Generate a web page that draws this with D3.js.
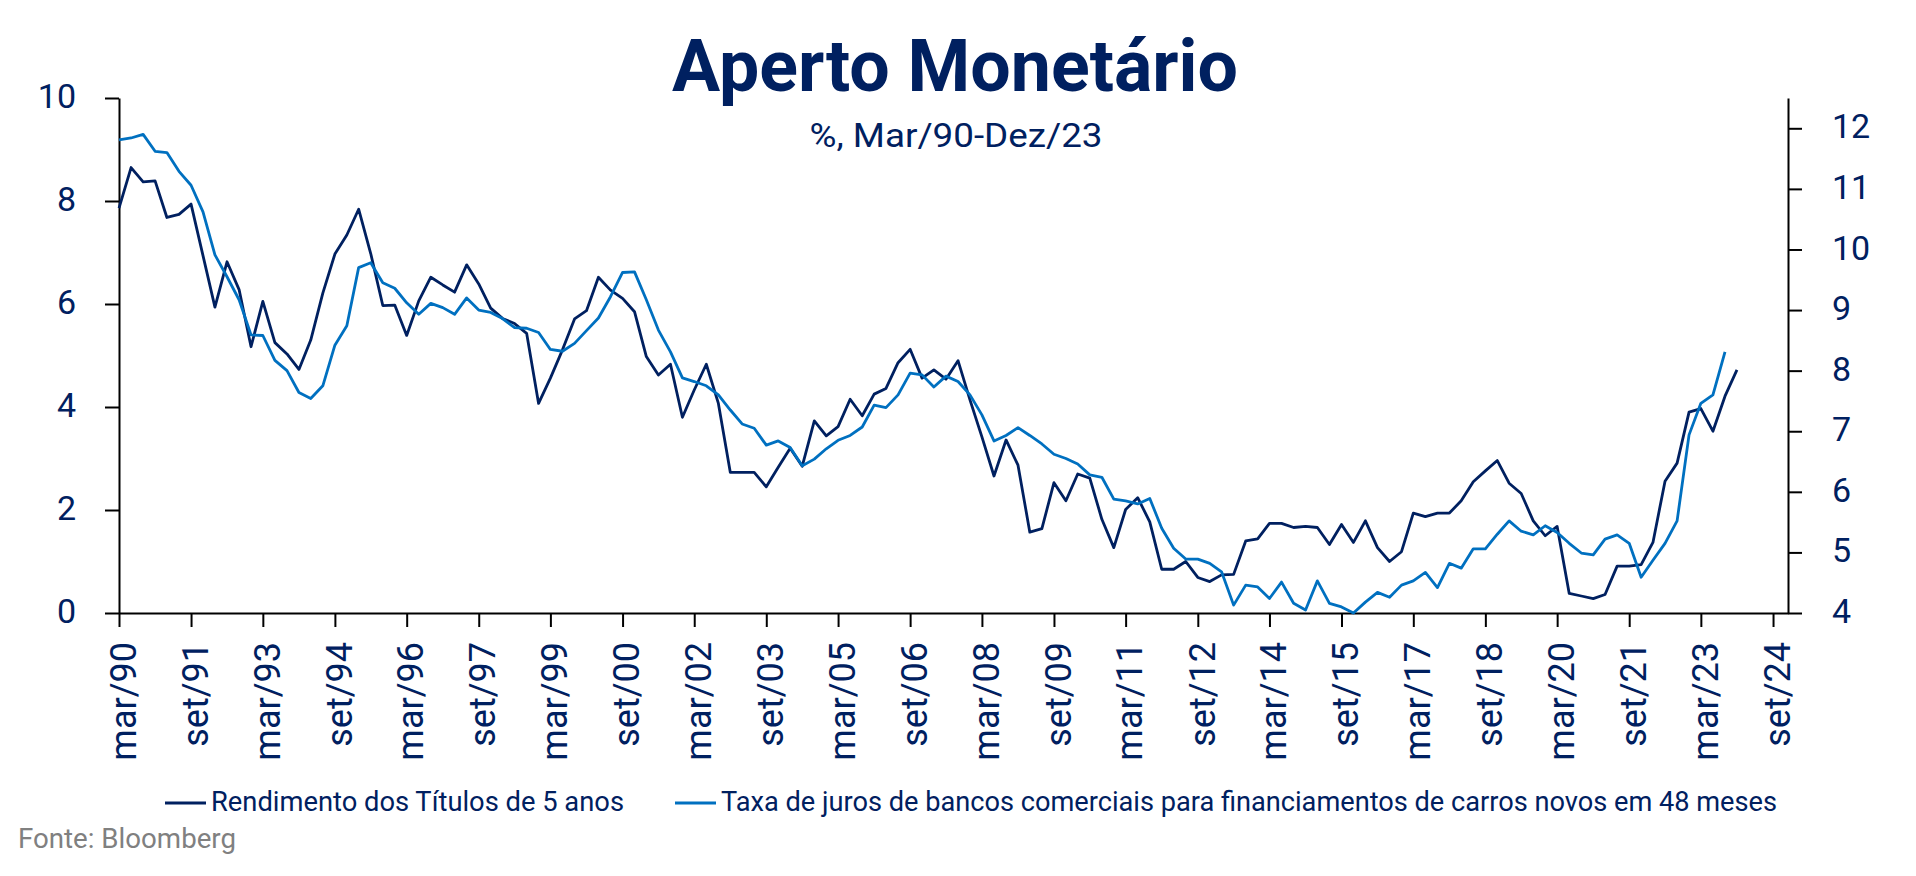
<!DOCTYPE html>
<html>
<head>
<meta charset="utf-8">
<script src="https://cdn.jsdelivr.net/npm/d3@7"></script>
<style>
  body { margin: 0; background: #fff; }
  text { font-family: Roboto, "Noto Sans", sans-serif; }
</style>
</head>
<body>
<div id="chart"></div>
<script>
const width = 1916;
const height = 876;

// quarterly series, first point mar/90
const startYear = 1990;
const startMonth = 2;

const rendimento5Anos = [
  7.86, 8.65, 8.37, 8.39, 7.68, 7.74, 7.94, 6.94, 5.94, 6.82,
  6.28, 5.17, 6.05, 5.25, 5.03, 4.73, 5.30, 6.21, 6.97, 7.34,
  7.84, 6.98, 5.97, 5.98, 5.39, 6.06, 6.52, 6.37, 6.23, 6.76,
  6.39, 5.92, 5.72, 5.62, 5.43, 4.07, 4.56, 5.11, 5.71, 5.87,
  6.52, 6.27, 6.11, 5.85, 4.98, 4.62, 4.83, 3.80, 4.33, 4.83,
  4.07, 2.73, 2.73, 2.73, 2.45, 2.83, 3.20, 2.85, 3.73, 3.44,
  3.62, 4.15, 3.83, 4.25, 4.36, 4.86, 5.12, 4.56, 4.72, 4.54,
  4.90, 4.14, 3.42, 2.66, 3.36, 2.87, 1.57, 1.64, 2.53, 2.18,
  2.70, 2.62, 1.82, 1.27, 2.01, 2.24, 1.77, 0.85, 0.85, 1.00,
  0.69, 0.61, 0.74, 0.75, 1.40, 1.44, 1.74, 1.74, 1.66, 1.68,
  1.66, 1.33, 1.72, 1.37, 1.79, 1.27, 1.00, 1.19, 1.94, 1.87,
  1.94, 1.94, 2.18, 2.55, 2.76, 2.96, 2.52, 2.32, 1.79, 1.50,
  1.68, 0.38, 0.33, 0.28, 0.36, 0.91, 0.91, 0.94, 1.37, 2.56,
  2.91, 3.90, 3.97, 3.53, 4.21, 4.72
];

const taxaCarros48m = [
  11.81, 11.84, 11.90, 11.62, 11.60, 11.29, 11.06, 10.62, 9.91, 9.55,
  9.17, 8.59, 8.58, 8.17, 8.00, 7.64, 7.54, 7.75, 8.42, 8.74,
  9.70, 9.78, 9.45, 9.36, 9.12, 8.93, 9.11, 9.04, 8.93, 9.20,
  9.00, 8.96, 8.86, 8.71, 8.70, 8.63, 8.35, 8.32, 8.45, 8.66,
  8.87, 9.22, 9.62, 9.63, 9.17, 8.67, 8.31, 7.88, 7.82, 7.75,
  7.60, 7.35, 7.12, 7.05, 6.77, 6.84, 6.73, 6.43, 6.54, 6.71,
  6.85, 6.93, 7.07, 7.43, 7.39, 7.60, 7.96, 7.93, 7.73, 7.91,
  7.82, 7.60, 7.27, 6.84, 6.93, 7.06, 6.93, 6.79, 6.62, 6.55,
  6.46, 6.28, 6.24, 5.88, 5.85, 5.80, 5.89, 5.40, 5.07, 4.89,
  4.89, 4.82, 4.68, 4.13, 4.46, 4.43, 4.24, 4.51, 4.16, 4.05,
  4.53, 4.16, 4.10, 4.00, 4.18, 4.34, 4.26, 4.46, 4.53, 4.67,
  4.42, 4.82, 4.74, 5.06, 5.06, 5.30, 5.52, 5.35, 5.29, 5.44,
  5.33, 5.15, 4.99, 4.96, 5.22, 5.29, 5.15, 4.59, 4.87, 5.15,
  5.52, 6.94, 7.46, 7.60, 8.31
];

const xTickLabels = [
  "mar/90", "set/91", "mar/93", "set/94", "mar/96", "set/97", "mar/99", "set/00",
  "mar/02", "set/03", "mar/05", "set/06", "mar/08", "set/09", "mar/11", "set/12",
  "mar/14", "set/15", "mar/17", "set/18", "mar/20", "set/21", "mar/23", "set/24"
];
const leftTicks = [0, 2, 4, 6, 8, 10];
const rightTicks = [4, 5, 6, 7, 8, 9, 10, 11, 12];
const seriesNames = [
  "Rendimento dos Títulos de 5 anos",
  "Taxa de juros de bancos comerciais para financiamentos de carros novos em 48 meses"
];

const navy = "#002060";
const blue = "#0070C0";

const plot = { left: 119, right: 1788, top: 98, bottom: 613 };

const monthIndex = { mar: 2, set: 8 };
function parseTick(s) {
  const [m, y] = s.split("/");
  const yy = +y < 50 ? 2000 + +y : 1900 + +y;
  return new Date(yy, monthIndex[m], 1);
}
const toSeries = (values) =>
  values.map((v, i) => ({ date: new Date(startYear, startMonth + 3 * i, 1), value: v }));

const x = d3.scaleTime()
  .domain([new Date(1990, 2, 1), new Date(2024, 11, 24)])
  .range([plot.left, plot.right]);
const yL = d3.scaleLinear().domain([0, 10]).range([plot.bottom, plot.top]);
const yR = d3.scaleLinear().domain([4, 12.5]).range([plot.bottom, plot.top]);

const svg = d3.select("#chart").append("svg")
  .attr("width", width)
  .attr("height", height);

// Title
svg.append("text")
  .attr("x", 955).attr("y", 91)
  .attr("text-anchor", "middle")
  .attr("font-size", 72).attr("font-weight", 700)
  .attr("fill", navy)
  .attr("textLength", 566).attr("lengthAdjust", "spacingAndGlyphs")
  .text("Aperto Monetário");

svg.append("text")
  .attr("x", 956).attr("y", 147)
  .attr("text-anchor", "middle")
  .attr("font-size", 34)
  .attr("fill", navy)
  .attr("textLength", 293).attr("lengthAdjust", "spacingAndGlyphs")
  .text("%, Mar/90-Dez/23");

// Axes
function styleAxis(g) {
  g.select(".domain").attr("stroke", "#000").attr("stroke-width", 2);
  g.selectAll(".tick line").attr("stroke", "#000").attr("stroke-width", 2);
  g.selectAll(".tick text").attr("fill", navy).attr("font-family", "Roboto, 'Noto Sans', sans-serif");
}

svg.append("g")
  .attr("transform", `translate(${plot.left},0)`)
  .call(d3.axisLeft(yL).tickValues(leftTicks).tickSize(14).tickSizeOuter(0).tickPadding(29))
  .call(styleAxis)
  .call(g => g.selectAll(".tick text").attr("font-size", 34).attr("dy", "0.28em"));

svg.append("g")
  .attr("transform", `translate(${plot.right},0)`)
  .call(d3.axisRight(yR).tickValues(rightTicks).tickSize(14).tickSizeOuter(0).tickPadding(30))
  .call(styleAxis)
  .call(g => g.selectAll(".tick text").attr("font-size", 34).attr("dy", "0.28em"));

const tickDates = xTickLabels.map(parseTick);
svg.append("g")
  .attr("transform", `translate(0,${plot.bottom})`)
  .call(d3.axisBottom(x).tickValues(tickDates).tickSize(14).tickSizeOuter(0)
    .tickFormat((d, i) => xTickLabels[i]))
  .call(styleAxis)
  .call(g => g.selectAll(".tick text")
    .attr("font-size", 36)
    .attr("transform", "rotate(-90)")
    .attr("text-anchor", "end")
    .attr("x", -29)
    .attr("y", 0)
    .attr("dy", "0.45em"));

// Lines
const lineL = d3.line().x(d => x(d.date)).y(d => yL(d.value));
const lineR = d3.line().x(d => x(d.date)).y(d => yR(d.value));

svg.append("path")
  .datum(toSeries(rendimento5Anos))
  .attr("fill", "none")
  .attr("stroke", navy)
  .attr("stroke-width", 2.8)
  .attr("stroke-linejoin", "round")
  .attr("d", lineL);

svg.append("path")
  .datum(toSeries(taxaCarros48m))
  .attr("fill", "none")
  .attr("stroke", blue)
  .attr("stroke-width", 2.8)
  .attr("stroke-linejoin", "round")
  .attr("d", lineR);

// Legend
const legendItems = [
  { name: seriesNames[0], color: navy, x: 165, len: 413 },
  { name: seriesNames[1], color: blue, x: 675, len: 1056 }
];
const legend = svg.append("g").selectAll("g")
  .data(legendItems)
  .join("g")
  .attr("transform", d => `translate(${d.x},803)`);
legend.append("line")
  .attr("x1", 0).attr("x2", 41)
  .attr("stroke", d => d.color)
  .attr("stroke-width", 3);
legend.append("text")
  .attr("x", 46).attr("y", 8)
  .attr("font-size", 28)
  .attr("fill", navy)
  .attr("textLength", d => d.len).attr("lengthAdjust", "spacingAndGlyphs")
  .text(d => d.name);

// Source
svg.append("text")
  .attr("x", 18).attr("y", 848)
  .attr("font-size", 27)
  .attr("fill", "#808080")
  .attr("textLength", 218).attr("lengthAdjust", "spacingAndGlyphs")
  .text("Fonte: Bloomberg");
</script>
</body>
</html>
